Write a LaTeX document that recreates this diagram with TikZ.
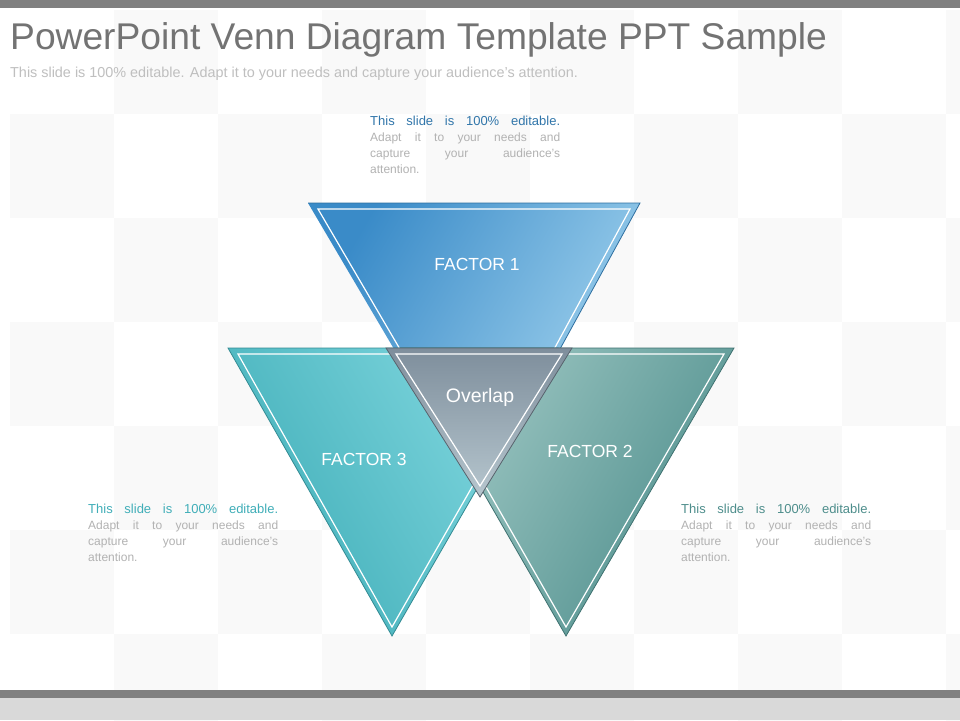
\documentclass[tikz,border=0pt]{standalone}
\usepackage{fontspec}
\setmainfont{Liberation Sans}
\definecolor{b1}{HTML}{3A8BC8}\definecolor{b2}{HTML}{A6D6F0}
\definecolor{t1}{HTML}{40AEB8}\definecolor{t2}{HTML}{82D8E0}
\definecolor{g1}{HTML}{4E8E8C}\definecolor{g2}{HTML}{A2CAC6}
\definecolor{o1}{HTML}{7E8E9C}\definecolor{o2}{HTML}{B6C6CE}
\begin{document}
\begin{tikzpicture}[x=1pt,y=-1pt,
  edge/.style={draw=white,line width=1.2pt,line join=miter},
  fl/.style={text=white,font=\fontsize{17.5}{20}\selectfont},
  para/.style={text width=190pt,align=justify,font=\fontsize{12}{16}\selectfont,text=black!30,anchor=north west,inner sep=0pt}]
\useasboundingbox (0,0) rectangle (960,720);
\fill[white] (0,0) rectangle (960,720);
\foreach \i in {0,...,9}{\foreach \j in {0,...,6}{
  \pgfmathtruncatemacro\p{mod(\i+\j,2)}
  \ifnum\p=1 \fill[black!2.5] (10+104*\i,10+104*\j) rectangle ++(104,104);\fi}}
\fill[black!50] (0,0) rectangle (960,8);
\fill[black!50] (0,690) rectangle (960,698);
\fill[black!15] (0,698) rectangle (960,720);
\node[anchor=west,text=black!55,font=\fontsize{37.2}{40}\selectfont,inner sep=0] (title) at (10,40) {PowerPoint Venn Diagram Template PPT Sample};
\node[anchor=west,text=black!25,font=\fontsize{14.4}{16}\selectfont,inner sep=0] (sub) at (10,74) {This slide is 100\% editable. Adapt it to your needs and capture your audience's attention.};
% Factor 1
\shade[left color=b1,right color=b2,shading angle=60] (308,203) -- (640,203) -- (480,495) -- cycle;
\draw[b1!80!black,line width=0.8pt] (308,203) -- (640,203) -- (480,495);
\draw[edge] (318,209) -- (630,209) -- (480,486) -- cycle;
% Factor 3
\shade[left color=t1,right color=t2,shading angle=120] (228,348) -- (558,348) -- (392,636) -- cycle;
\draw[t1!80!black,line width=0.8pt] (228,348) -- (558,348) -- (392,636) -- cycle;
\draw[edge] (238,354) -- (548,354) -- (392,627) -- cycle;
% Factor 2
\shade[left color=g1,right color=g2,shading angle=240] (400,348) -- (734,348) -- (566,636) -- cycle;
\draw[g1!80!black,line width=0.8pt] (400,348) -- (734,348) -- (566,636) -- cycle;
\draw[edge] (410,354) -- (724,354) -- (566,627) -- cycle;
% Overlap
\shade[top color=o1,bottom color=o2] (386,348) -- (572,348) -- (480,497) -- cycle;
\draw[o1!70!black,line width=0.8pt] (386,348) -- (572,348) -- (480,497) -- cycle;
\draw[edge] (396,354) -- (562,354) -- (480,486) -- cycle;
\node[fl] (f1) at (477,264) {FACTOR 1};
\node[fl] (f3) at (364,459) {FACTOR 3};
\node[fl] (f2) at (590,451) {FACTOR 2};
\node[fl,font=\fontsize{19.5}{22}\selectfont] (ov) at (480,397) {Overlap};
\node[para] (t1) at (370,116) {{\color{b1!85!black}\fontsize{13}{16}\selectfont This slide is 100\% editable.}\linebreak Adapt it to your needs and\linebreak capture your audience's\linebreak attention.};
\node[para] (t3) at (88,504) {{\color{t1}\fontsize{13}{16}\selectfont This slide is 100\% editable.}\linebreak Adapt it to your needs and\linebreak capture your audience's\linebreak attention.};
\node[para] (t2) at (681,504) {{\color{g1}\fontsize{13}{16}\selectfont This slide is 100\% editable.}\linebreak Adapt it to your needs and\linebreak capture your audience's\linebreak attention.};
\end{tikzpicture}
\end{document}
